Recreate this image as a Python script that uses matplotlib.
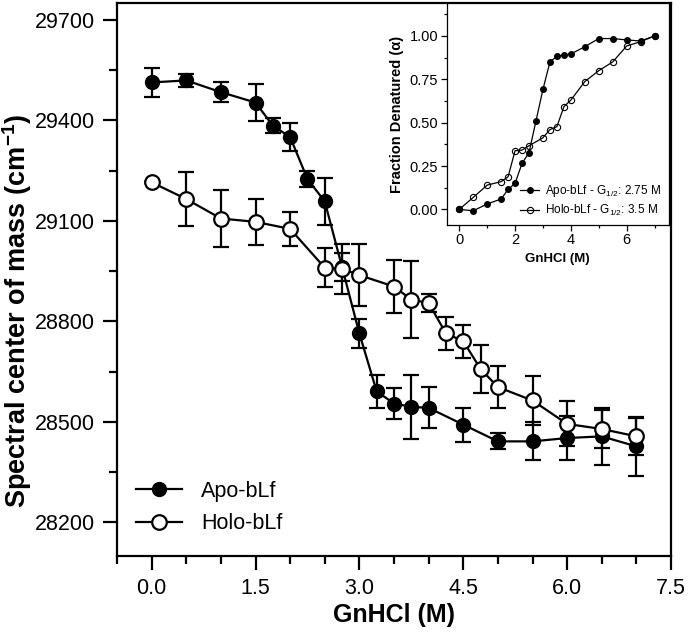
import matplotlib
matplotlib.use("Agg")
import matplotlib.pyplot as plt
from matplotlib.ticker import MultipleLocator
from matplotlib.lines import Line2D

plt.rcParams['font.family'] = ['Liberation Sans', 'DejaVu Sans']
plt.rcParams['mathtext.fontset'] = 'custom'
plt.rcParams['mathtext.rm'] = 'Liberation Sans'
plt.rcParams['mathtext.it'] = 'Liberation Sans:italic'
plt.rcParams['mathtext.bf'] = 'Liberation Sans:bold'

# ---- main panel data ----
apo_x = [0, 0.5, 1.0, 1.5, 1.75, 2.0, 2.25, 2.5, 2.75, 3.0, 3.25, 3.5, 3.75, 4.0, 4.5, 5.0, 5.5, 6.0, 6.5, 7.0]
apo_y = [29513, 29519, 29484, 29453, 29384, 29350, 29225, 29158, 28962, 28764, 28591, 28555, 28545, 28542,
         28492, 28442, 28442, 28452, 28457, 28427]
apo_err = [43, 20, 30, 54, 22, 42, 23, 70, 42, 42, 49, 46, 96, 61, 51, 24, 57, 65, 84, 87]

holo_x = [0, 0.5, 1.0, 1.5, 2.0, 2.5, 2.75, 3.0, 3.5, 3.75, 4.0, 4.25, 4.5, 4.75, 5.0, 5.5, 6.0, 6.5, 7.0]
holo_y = [29215, 29165, 29107, 29097, 29076, 28960, 28957, 28938, 28904, 28865, 28855, 28764, 28741,
          28658, 28604, 28564, 28494, 28479, 28457]
holo_err = [0, 80, 85, 68, 51, 58, 75, 92, 80, 114, 28, 48, 49, 73, 63, 73, 67, 58, 56]

x_ticks = [0.0, 1.5, 3.0, 4.5, 6.0, 7.5]
y_ticks = [28200, 28500, 28800, 29100, 29400, 29700]

# ---- inset data ----
in_apo_x = [0, 0.5, 1.0, 1.5, 1.75, 2.0, 2.25, 2.5, 2.75, 3.0, 3.25, 3.5, 3.75, 4.0, 4.5, 5.0, 5.5, 6.0, 6.5, 7.0]
in_apo_y = [0.0, -0.008, 0.031, 0.06, 0.115, 0.15, 0.265, 0.327, 0.51, 0.692, 0.85, 0.883, 0.89, 0.896,
            0.938, 0.985, 0.985, 0.977, 0.971, 1.0]
in_holo_x = [0, 0.5, 1.0, 1.5, 1.75, 2.0, 2.25, 2.5, 3.0, 3.25, 3.5, 3.75, 4.0, 4.5, 5.0, 5.5, 6.0, 6.5, 7.0]
in_holo_y = [0.0, 0.069, 0.14, 0.16, 0.188, 0.338, 0.342, 0.367, 0.413, 0.46, 0.477, 0.592, 0.63, 0.737,
             0.8, 0.85, 0.942, 0.967, 1.0]
in_x_ticks = [0, 2, 4, 6]
in_y_ticks = [0.00, 0.25, 0.50, 0.75, 1.00]

fig = plt.figure(figsize=(6.88, 6.36), dpi=100)
ax = fig.add_axes([117/688, 1-556/636, (671-117)/688, (556-3)/636])

ax.errorbar(apo_x, apo_y, yerr=apo_err, fmt='-o', color='black', mfc='black', mec='black',
            ms=10, lw=1.6, elinewidth=1.6, capsize=6, capthick=1.6, zorder=2)
ax.errorbar(holo_x, holo_y, yerr=holo_err, fmt='-o', color='black', mfc='white', mec='black',
            mew=1.6, ms=10.5, lw=1.6, elinewidth=1.6, capsize=6, capthick=1.6, zorder=3)

ax.set_xlim(-0.5, 7.5)
ax.set_ylim(28100, 29750)
ax.set_xticks(x_ticks)
ax.set_xticklabels([f"{v:.1f}" for v in x_ticks])
ax.set_yticks(y_ticks)
ax.set_yticklabels([str(v) for v in y_ticks])
ax.xaxis.set_minor_locator(MultipleLocator(0.5))
ax.yaxis.set_minor_locator(MultipleLocator(150))
ax.tick_params(which='major', direction='out', length=10, width=1.6, labelsize=15.5, pad=6)
ax.tick_params(which='minor', direction='out', length=6, width=1.6)
for s in ax.spines.values():
    s.set_linewidth(1.6)
ax.set_xlabel('GnHCl (M)', fontsize=18, fontweight='bold', labelpad=3)
ax.set_ylabel('Spectral center of mass (cm$^{\\mathbf{-1}}$)', fontsize=19.5, fontweight='bold')
ax.yaxis.set_label_coords(-0.15, 0.443)

handles = [Line2D([], [], color='black', marker='o', mfc='black', mec='black', ms=10, lw=1.6),
           Line2D([], [], color='black', marker='o', mfc='white', mec='black', mew=1.6, ms=10.5, lw=1.6)]
ax.legend(handles, ['Apo-bLf', 'Holo-bLf'], loc='lower left', bbox_to_anchor=(0.0, 0.004),
          frameon=False, fontsize=15.5, handlelength=2.1, labelspacing=0.55, handletextpad=0.9)

# ---- inset ----
ins = fig.add_axes([446.7/688, 1-225/636, (668.5-446.7)/688, (225-3)/636])
ins.plot(in_apo_x, in_apo_y, '-o', color='black', mfc='black', mec='black', ms=4, lw=0.9,
         label='Apo-bLf - G$_{1/2}$: 2.75 M')
ins.plot(in_holo_x, in_holo_y, '-o', color='black', mfc='none', mec='black', ms=4.5, mew=0.8, lw=0.9,
         label='Holo-bLf - G$_{1/2}$: 3.5 M')
ins.set_xlim(-0.45, 7.5)
ins.set_ylim(-0.09, 1.19)
ins.set_xticks(in_x_ticks)
ins.set_yticks(in_y_ticks)
ins.set_yticklabels([f"{v:.2f}" for v in in_y_ticks])
ins.xaxis.set_minor_locator(MultipleLocator(1))
ins.yaxis.set_minor_locator(MultipleLocator(0.125))
ins.tick_params(which='major', direction='out', length=4, width=0.9, labelsize=10.5, pad=2)
ins.tick_params(which='minor', direction='out', length=2.5, width=0.9)
for s in ins.spines.values():
    s.set_linewidth(0.9)
ins.set_xlabel('GnHCl (M)', fontsize=9.5, fontweight='bold', labelpad=4)
ins.set_ylabel('Fraction Denatured (α)', fontsize=10.5, fontweight='bold', labelpad=4)
ins.legend(loc='lower right', frameon=False, fontsize=8.5, handlelength=1.6, labelspacing=0.3,
           handletextpad=0.5, borderaxespad=0.2)

fig.savefig('out.png', dpi=100)
